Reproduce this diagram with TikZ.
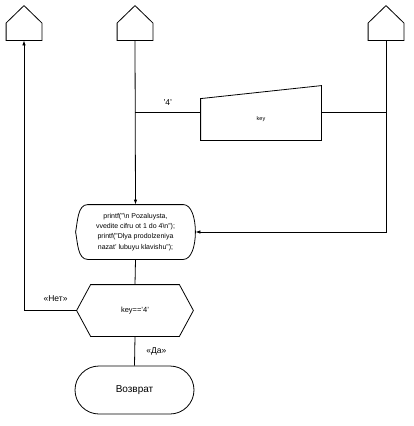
\documentclass[tikz,border=0pt]{standalone}
\usepackage{fontspec}
\setmainfont{Liberation Sans}
\usetikzlibrary{arrows.meta, shapes.misc, calc}

\begin{document}
\begin{tikzpicture}[x=1pt, y=-1pt, line width=0.8pt,
        lbl/.style={font=\fontsize{8.5}{10}\selectfont},
        ln/.style={draw},
        arr/.style={draw, -{Latex[length=5pt, width=3.5pt]}},
        box/.style={inner sep=0pt, align=center},
        house/.style={box, minimum width=35pt, minimum height=34pt}
        ]

        \useasboundingbox (0,0) rectangle (414,426);

        %% Connector houses at the top
        \foreach \name/\x in {hL/24, hM/135, hR/386}{
            \node[house] (\name) at (\x,23) {};
            \draw (\name.south west) -- (\name.west) -- (\name.north)
                -- (\name.east) -- (\name.south east) -- cycle;
        }

        %% Manual input: key
        \node[box, minimum width=120pt, minimum height=41pt,
            font=\fontsize{5.5}{6}\selectfont] (key) at (261,119.5) {key};
        \draw (key.south west) -- (key.north west)
            -- ($(key.north east)+(0,-13)$) -- (key.south east) -- cycle;

        %% Display: printf
        \node[box, minimum width=119pt, minimum height=54pt,
            font=\fontsize{7}{10.3}\selectfont] (out) at (135.5,232)
            {printf("\textbackslash n Pozaluysta,\\
             vvedite cifru ot 1 do 4\textbackslash n");\\
             printf("Dlya prodolzeniya\\
             nazat' lubuyu klavishu");};
        \draw ($(out.north west)+(12,0)$) -- ($(out.north east)+(-12,0)$)
            .. controls ($(out.north east)+(-4,0)$) and ($(out.east)+(0,-14)$) .. (out.east)
            .. controls ($(out.east)+(0,14)$) and ($(out.south east)+(-4,0)$) .. ($(out.south east)+(-12,0)$)
            -- ($(out.south west)+(12,0)$)
            .. controls ($(out.south west)+(2,0)$) and ($(out.west)+(2,10)$) .. (out.west)
            .. controls ($(out.west)+(2,-10)$) and ($(out.north west)+(2,0)$) .. cycle;

        %% Decision: key=='4'
        \node[box, minimum width=116pt, minimum height=51pt,
            font=\fontsize{7.5}{9}\selectfont] (cmp) at (135,310.5) {key=='4'};
        \draw (cmp.west) -- ($(cmp.north west)+(14,0)$) -- ($(cmp.north east)+(-14,0)$)
            -- (cmp.east) -- ($(cmp.south east)+(-14,0)$) -- ($(cmp.south west)+(14,0)$) -- cycle;

        %% Terminal
        \node[draw, rounded rectangle, minimum width=119pt, minimum height=48pt,
            inner sep=0pt, font=\fontsize{10}{12}\selectfont] (ret) at (134.5,390) {Возврат};

        %% Junctions
        \coordinate (jM) at (135,112);
        \coordinate (jR) at (386,112);
        \coordinate (jD) at (386,232);
        \coordinate (jL) at (24,310.5);

        %% Connections
        \draw[arr] (hM.south) -- (out.north);
        \draw[ln] (jM) -- node[lbl, above=3pt]{'4'} (key.west |- jM);
        \draw[ln] (key.east |- jR) -- (jR);
        \draw[arr] (hR.south) -- (jD) -- (out.east |- jD);
        \draw[ln] (out.south) -- (cmp.north);
        \draw[arr] (cmp.west) -- node[lbl, above=5pt, pos=0.4]{«Нет»} (jL) -- (hL.south);
        \draw[ln] (cmp.south) -- node[lbl, right=8pt]{«Да»} (ret.north);

    \end{tikzpicture}
\end{document}
